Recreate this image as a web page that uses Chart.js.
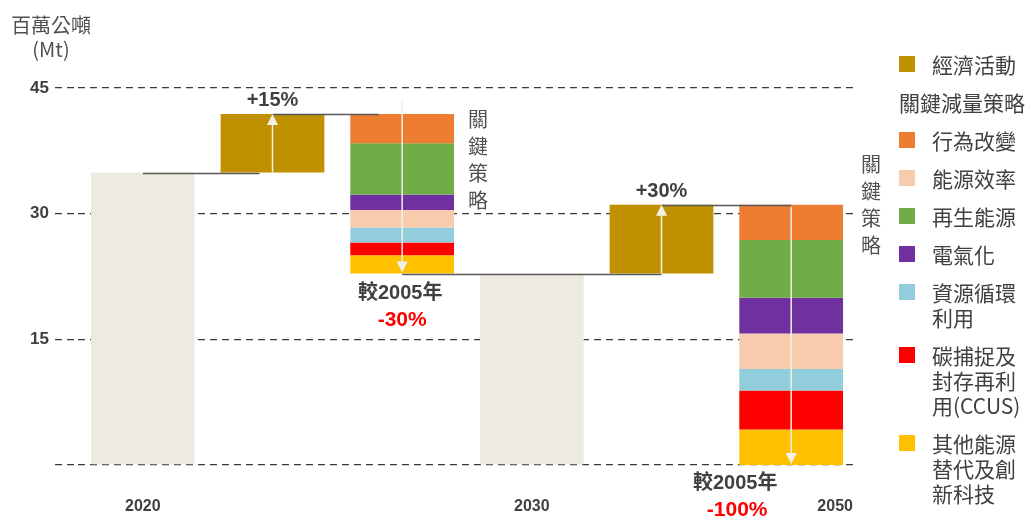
<!DOCTYPE html>
<html lang="zh-Hant">
<head>
<meta charset="utf-8">
<title>關鍵減量策略</title>
<script src="https://cdn.jsdelivr.net/npm/chart.js@4.4.1/dist/chart.umd.min.js"></script>
<style>
  html, body { margin: 0; padding: 0; background: #fff; }
  #wrap { position: relative; width: 1032px; height: 523px; overflow: hidden; }
  #chart { position: absolute; left: 0; top: 0; }
  .ytitle { position: absolute; left: 8px; top: 13px; width: 86px; text-align: center;
    font: 20px/24px 'Noto Sans CJK TC', sans-serif; color: #505050; }
  #legend { position: absolute; left: 899px; top: 52px;
    font: 21px/25px 'Noto Sans CJK TC', sans-serif; color: #404040; }
  #legend .item { display: flex; align-items: flex-start; margin-bottom: 13px; white-space: pre; }
  #legend .box { width: 16px; height: 16px; margin: 4px 17px 0 0; flex: none; }
</style>
</head>
<body>
<div id="wrap">
  <canvas id="chart" width="1032" height="523"></canvas>
  <div class="ytitle">百萬公噸<br>(Mt)</div>
  <div id="legend"></div>
</div>
<script>
const categories = ['2020', '', '', '2030', '', '2050'];
const yTicks = [0, 15, 30, 45];

const emissions2020 = 34.9;
const economicGrowth = [7.0, 8.2];   // 2020->2030, 2030->2050
const growthLabels = ['+15%', '+30%'];
const vs2005Labels = ['-30%', '-100%'];

// reductions for 2030 and 2050 (Mt), listed from the top of the bar down
const behaviour = [3.5, 4.2];
const renewables = [6.1, 6.9];
const electrification = [1.85, 4.25];
const efficiency = [2.1, 4.25];
const circular = [1.8, 2.55];
const ccus = [1.5, 4.65];
const otherTech = [2.2, 4.25];

const strategies = [
  { name: '行為改變', values: behaviour, color: '#ED7D31' },
  { name: '再生能源', values: renewables, color: '#70AD47' },
  { name: '電氣化', values: electrification, color: '#7030A0' },
  { name: '能源效率', values: efficiency, color: '#F8CBAD' },
  { name: '資源循環\n利用', values: circular, color: '#92CDDC' },
  { name: '碳捕捉及\n封存再利\n用(CCUS)', values: ccus, color: '#FF0000' },
  { name: '其他能源\n替代及創\n新科技', values: otherTech, color: '#FFC000' }
];
const legendOrder = ['行為改變', '能源效率', '再生能源', '電氣化', '資源循環\n利用',
  '碳捕捉及\n封存再利\n用(CCUS)', '其他能源\n替代及創\n新科技'];

const growthIdx = [1, 4];
const cutIdx = [2, 5];

// build the waterfall as floating bars
const totals = categories.map(() => null);
const econ = categories.map(() => null);
const stratData = strategies.map(() => categories.map(() => null));
const connectors = [];
const arrows = [];
const cutRanges = [];

let level = emissions2020;
totals[0] = [0, level];
let prev = 0;
economicGrowth.forEach((g, k) => {
  const gi = growthIdx[k], ci = cutIdx[k];
  connectors.push({ from: prev, to: gi, y: level, trim: k === 0 ? 0.1 : 0 });
  econ[gi] = [level, level + g];
  arrows.push({ idx: gi, from: level, to: level + g, lead: 0 });
  level += g;
  connectors.push({ from: gi, to: ci, y: level, trim: k === 0 ? 0.18 : 0 });
  let top = level;
  strategies.forEach((s, i) => {
    stratData[i][ci] = [top - s.values[k], top];
    top -= s.values[k];
  });
  arrows.push({ idx: ci, from: level, to: top, lead: k === 0 ? 14 : -2 });
  cutRanges.push({ idx: ci, top: level, bottom: top });
  level = top;
  if (k === 0) { totals[3] = [0, level]; }
  prev = ci;
});

const numFont = "'Liberation Sans', 'Noto Sans CJK TC', sans-serif";
const cjkFont = "'Noto Sans CJK TC', sans-serif";

const notes = {
  id: 'waterfallNotes',
  afterDatasetsDraw(chart) {
    const { ctx, scales: { x, y } } = chart;
    const step = x.getPixelForValue(1) - x.getPixelForValue(0);
    const barW = step * 0.8;
    ctx.save();

    // connector lines
    ctx.strokeStyle = '#595959';
    ctx.lineWidth = 1.6;
    connectors.forEach(c => {
      const yp = Math.round(y.getPixelForValue(c.y)) + 0.5;
      ctx.beginPath();
      ctx.moveTo(x.getPixelForValue(c.from), yp);
      ctx.lineTo(x.getPixelForValue(c.to) - step * c.trim, yp);
      ctx.stroke();
    });

    // arrows
    ctx.strokeStyle = '#F2F0E8';
    ctx.fillStyle = '#F2F0E8';
    ctx.lineWidth = 1.5;
    arrows.forEach(a => {
      const xp = x.getPixelForValue(a.idx);
      const up = a.to > a.from;
      let y1 = y.getPixelForValue(a.from) + (up ? 0 : -a.lead);
      const y2 = y.getPixelForValue(a.to) + (up ? 0 : -1);
      const dir = up ? 1 : -1;
      ctx.beginPath();
      ctx.moveTo(xp, y1);
      ctx.lineTo(xp, y2 + dir * 10);
      ctx.stroke();
      ctx.beginPath();
      ctx.moveTo(xp, y2);
      ctx.lineTo(xp - 5.5, y2 + dir * 11);
      ctx.lineTo(xp + 5.5, y2 + dir * 11);
      ctx.closePath();
      ctx.fill();
    });

    ctx.textAlign = 'center';
    ctx.textBaseline = 'middle';

    // growth labels
    ctx.fillStyle = '#404040';
    ctx.font = 'bold 20px ' + numFont;
    growthIdx.forEach((gi, k) => {
      ctx.fillText(growthLabels[k], x.getPixelForValue(gi), y.getPixelForValue(econ[gi][1]) - 13);
    });

    // vertical 關鍵策略
    ctx.fillStyle = '#505050';
    ctx.font = '20px ' + cjkFont;
    const vText = '關鍵策略';
    cutRanges.forEach((r, k) => {
      const xp = x.getPixelForValue(r.idx) + barW / 2 + (k === 0 ? 24 : 28);
      const y0 = y.getPixelForValue(r.top) + (k === 0 ? 5 : -40);
      const gap = k === 0 ? 27 : 26.7;
      [...vText].forEach((ch, j) => ctx.fillText(ch, xp, y0 + j * gap));
    });

    // 較2005年 labels
    cutRanges.forEach((r, k) => {
      const xp = x.getPixelForValue(r.idx) + (k === 0 ? -2 : -56);
      const yp = k === 0 ? y.getPixelForValue(r.bottom) + 20 : y.getPixelForValue(0) + 18;
      ctx.fillStyle = '#404040';
      ctx.font = 'bold 20px ' + numFont;
      ctx.fillText('較2005年', xp, yp);
      ctx.fillStyle = '#FF0000';
      ctx.font = 'bold 21px ' + numFont;
      ctx.fillText(vs2005Labels[k], xp + 2, yp + 27);
    });

    // year labels
    ctx.fillStyle = '#404040';
    ctx.font = 'bold 16px ' + numFont;
    categories.forEach((c, i) => {
      if (!c) return;
      const shift = i === 5 ? 44 : 0;
      ctx.fillText(c, x.getPixelForValue(i) + shift, 507);
    });

    ctx.restore();
  }
};

const datasets = [
  { label: '排放量', data: totals, backgroundColor: '#EDEBE1' },
  { label: '經濟活動', data: econ, backgroundColor: '#BF9000' },
  ...strategies.map((s, i) => ({ label: s.name, data: stratData[i], backgroundColor: s.color }))
];

new Chart(document.getElementById('chart'), {
  type: 'bar',
  data: { labels: categories, datasets },
  options: {
    responsive: false,
    animation: false,
    devicePixelRatio: 1,
    layout: { padding: { top: 88, right: 176, left: 0, bottom: 0 } },
    datasets: { bar: { categoryPercentage: 1, barPercentage: 0.8, borderWidth: 0 } },
    plugins: { legend: { display: false }, tooltip: { enabled: false } },
    scales: {
      x: {
        stacked: true,
        grid: { display: false },
        border: { display: false },
        ticks: { display: false },
        afterFit: s => { s.height = 58; }
      },
      y: {
        stacked: false,
        min: 0,
        max: 45,
        afterBuildTicks: s => { s.ticks = yTicks.map(v => ({ value: v })); },
        ticks: {
          padding: 6,
          color: '#404040',
          font: { family: numFont, size: 17, weight: 'bold' },
          callback: v => (v === 0 ? '' : v)
        },
        grid: {
          color: '#3a3a3a',
          lineWidth: 1.3,
          tickLength: 23,
          tickColor: '#3a3a3a',
          tickWidth: 1.3,
          tickBorderDash: [7, 5]
        },
        border: { display: false, dash: [7, 5] },
        afterFit: s => { s.width = 78; }
      }
    }
  },
  plugins: [notes]
});

// legend
const legend = document.getElementById('legend');
function addItem(text, color) {
  const item = document.createElement('div');
  item.className = 'item';
  if (color) {
    const box = document.createElement('span');
    box.className = 'box';
    box.style.background = color;
    item.appendChild(box);
  }
  const label = document.createElement('span');
  label.textContent = text;
  item.appendChild(label);
  legend.appendChild(item);
}
addItem(datasets[1].label, datasets[1].backgroundColor);
addItem('關鍵減量策略', null);
legendOrder.forEach(name => {
  const s = strategies.find(t => t.name === name);
  addItem(s.name, s.color);
});
</script>
</body>
</html>
